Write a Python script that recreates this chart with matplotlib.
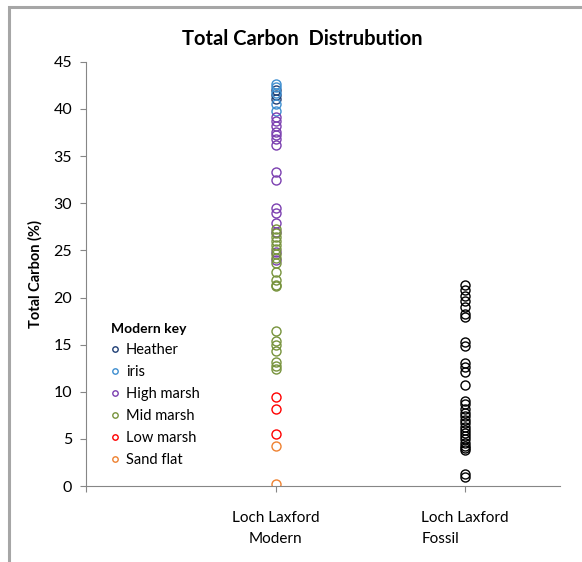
import matplotlib
matplotlib.use('Agg')
import matplotlib.pyplot as plt
from matplotlib.patches import Rectangle

plt.rcParams['font.family'] = ['Lato', 'DejaVu Sans']

# Loch Laxford Modern, by zone (Total carbon %)
heather = [42.0, 41.5, 41.1]
iris = [42.7, 42.3, 41.7, 40.5, 39.8]
high_marsh = [39.2, 38.7, 38.2, 37.6, 37.2, 36.8, 36.2, 33.3, 32.5, 29.5, 29.0,
              27.9, 26.9, 24.8, 24.0]
mid_marsh = [27.3, 26.8, 26.4, 26.0, 25.6, 25.2, 24.6, 24.2, 23.7, 22.7, 21.9,
             21.3, 21.2, 16.5, 15.4, 15.0, 14.3, 13.2, 12.7, 12.4]
low_marsh = [9.4, 8.2, 5.5]
sand_flat = [4.3, 0.2]

# Loch Laxford Fossil
fossil = [21.3, 20.8, 20.2, 19.6, 19.0, 18.3, 17.9, 15.3, 14.9, 13.1, 12.6, 12.1,
          10.7, 9.0, 8.7, 8.2, 7.8, 7.4, 7.0, 6.7, 6.3, 6.0, 5.6, 5.3, 5.0, 4.6,
          4.3, 4.0, 3.8, 1.3, 1.0]

modern_zones = [
    ('Heather', heather, '#1F3F75'),
    ('iris', iris, '#3E8ED0'),
    ('High marsh', high_marsh, '#7B3FB0'),
    ('Mid marsh', mid_marsh, '#77933C'),
    ('Low marsh', low_marsh, '#FF0000'),
    ('Sand flat', sand_flat, '#EE8130'),
]
site_labels = ['Loch Laxford\nModern', 'Loch Laxford\nFossil']
y_ticks = list(range(0, 46, 5))

fig = plt.figure(figsize=(5.82, 5.62), dpi=100)
ax = fig.add_axes([0.148, 0.135, 0.814, 0.755])

# frame around chart area
fig.patches.append(Rectangle((9 / 582, -0.1), 1.2, 1 - 7 / 562 + 0.1,
                             transform=fig.transFigure, fill=False,
                             edgecolor='#A6A6A6', linewidth=2.2))

for name, vals, col in modern_zones:
    ax.plot([1] * len(vals), vals, linestyle='none', marker='o', markersize=6.5,
            markerfacecolor='none', markeredgecolor=col, markeredgewidth=1.0,
            label=name)

ax.plot([2] * len(fossil), fossil, linestyle='none', marker='o', markersize=6.5,
        markerfacecolor='none', markeredgecolor='black', markeredgewidth=1.0)

ax.set_xlim(0, 2.5)
ax.set_ylim(0, 45)
ax.set_yticks(y_ticks)
ax.tick_params(axis='y', labelsize=11.5, length=4, color='#868686', pad=6)
ax.set_xticks([0, 1, 2])
ax.set_xticklabels([''] + site_labels, fontsize=11, linespacing=1.6)
ax.tick_params(axis='x', length=4, color='#868686', pad=14)
ax.get_xticklabels()[1].set_multialignment('center')
lbl = ax.get_xticklabels()[2]
lbl.set_multialignment('left')
lbl.set_x(2.03)

for s in ['top', 'right']:
    ax.spines[s].set_visible(False)
for s in ['left', 'bottom']:
    ax.spines[s].set_color('#868686')

ax.set_title('Total Carbon  Distrubution', fontsize=14.5, fontweight='bold',
             x=0.456, pad=12)
ax.set_ylabel('Total Carbon (%)', fontsize=10.5, fontweight='bold', labelpad=8)

leg = ax.legend(loc='upper left', bbox_to_anchor=(0.025, 0.415), frameon=False,
                title='Modern key', fontsize=10.5, markerscale=0.6,
                handlelength=0.6, handletextpad=0.4, labelspacing=0.55,
                alignment='left')
leg.get_title().set_fontweight('bold')
leg.get_title().set_fontsize(10)

fig.savefig('out.png', dpi=100)
